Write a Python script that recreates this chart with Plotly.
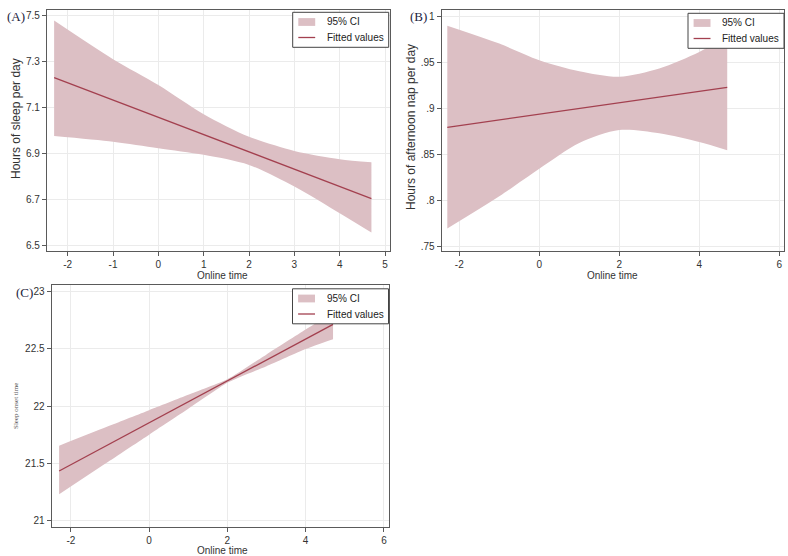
import plotly.graph_objects as go

# ---------------- data ----------------
ci_x = [-2.3, -1, 0, 1, 2, 3, 4, 4.7]
fit_x = [-2.3, 4.7]

# (A) Hours of sleep per day
a_upper = [7.48, 7.312, 7.20, 7.073, 6.975, 6.913, 6.877, 6.864]
a_lower = [6.978, 6.953, 6.925, 6.896, 6.852, 6.758, 6.642, 6.558]
a_fit = [7.232, 6.706]

# (B) Hours of afternoon nap per day
b_upper = [0.9895, 0.970, 0.952, 0.940, 0.934, 0.943, 0.961, 0.978]
b_lower = [0.769, 0.804, 0.834, 0.862, 0.876, 0.8725, 0.863, 0.854]
b_fit = [0.879, 0.9225]

# (C) Sleep onset time
c_upper = [21.657, 21.832, 21.966, 22.10, 22.235, 22.452, 22.669, 22.82]
c_lower = [21.233, 21.527, 21.753, 21.979, 22.205, 22.35, 22.50, 22.585]
c_fit = [21.436, 22.715]

a_yticks = [6.5, 6.7, 6.9, 7.1, 7.3, 7.5]
a_ytext = ["6.5", "6.7", "6.9", "7.1", "7.3", "7.5"]
a_xticks = [-2, -1, 0, 1, 2, 3, 4, 5]
a_xtext = ["-2", "-1", "0", "1", "2", "3", "4", "5"]
b_yticks = [0.75, 0.8, 0.85, 0.9, 0.95, 1]
b_ytext = [".75", ".8", ".85", ".9", ".95", "1"]
bc_xticks = [-2, 0, 2, 4, 6]
bc_xtext = ["-2", "0", "2", "4", "6"]
c_yticks = [21, 21.5, 22, 22.5, 23]
c_ytext = ["21", "21.5", "22", "22.5", "23"]

legend_labels = ["95% CI", "Fitted values"]

FILL = "rgb(220,191,196)"
LINE = "#a3404f"
W, H = 788, 556

fig = go.Figure()

def add_panel(n, upper, lower, fit, smooth):
    xs = "x" if n == 1 else f"x{n}"
    ys = "y" if n == 1 else f"y{n}"
    fig.add_trace(go.Scatter(
        x=ci_x, y=lower, mode="lines", line=dict(width=0, shape="spline", smoothing=smooth),
        xaxis=xs, yaxis=ys, showlegend=False, hoverinfo="skip"))
    fig.add_trace(go.Scatter(
        x=ci_x, y=upper, mode="lines", fill="tonexty", fillcolor=FILL,
        line=dict(width=0, shape="spline", smoothing=smooth), name=legend_labels[0],
        xaxis=xs, yaxis=ys, showlegend=False, hoverinfo="skip"))
    fig.add_trace(go.Scatter(
        x=fit_x, y=fit, mode="lines", line=dict(color=LINE, width=1.3),
        name=legend_labels[1], xaxis=xs, yaxis=ys, showlegend=False))

add_panel(1, a_upper, a_lower, a_fit, 0.8)
add_panel(2, b_upper, b_lower, b_fit, 0.8)
add_panel(3, c_upper, c_lower, c_fit, 0.5)

def px_x(p):
    return p / W

def px_y(p):
    return 1 - p / H

axis_common = dict(
    showgrid=True, gridcolor="#ebebeb", gridwidth=1, zeroline=False,
    showline=True, linecolor="#5a5a5a", linewidth=1.3, mirror=True,
    ticks="outside", ticklen=4, tickcolor="#5a5a5a",
    tickfont=dict(family="Arial, Liberation Sans", size=10, color="#333333"),
)

fig.update_layout(
    width=W, height=H, margin=dict(l=0, r=0, t=0, b=0),
    paper_bgcolor="white", plot_bgcolor="white", showlegend=False,
    font=dict(family="Arial, Liberation Sans", size=10, color="#333333"),
    xaxis=dict(domain=[px_x(47), px_x(390)], range=[-2.457, 5.11],
               tickvals=a_xticks, ticktext=a_xtext, anchor="y", **axis_common),
    yaxis=dict(domain=[px_y(251), px_y(9.5)], range=[6.478, 7.528],
               tickvals=a_yticks, ticktext=a_ytext, anchor="x", **axis_common),
    xaxis2=dict(domain=[px_x(441.7), px_x(784)], range=[-2.44, 6.12],
                tickvals=bc_xticks, ticktext=bc_xtext, anchor="y2", **axis_common),
    yaxis2=dict(domain=[px_y(251), px_y(9.5)], range=[0.74457, 1.00707],
                tickvals=b_yticks, ticktext=b_ytext, anchor="x2", **axis_common),
    xaxis3=dict(domain=[px_x(51.7), px_x(389)], range=[-2.49, 6.13],
                tickvals=bc_xticks, ticktext=bc_xtext, anchor="y3", **axis_common),
    yaxis3=dict(domain=[px_y(526.7), px_y(285)], range=[20.95, 23.058],
                tickvals=c_yticks, ticktext=c_ytext, anchor="x3", **axis_common),
)

shapes = []
ann = []
leg_font = dict(family="Arial, Liberation Sans", size=10, color="#222222")

def legend_box(L, T, Wd=96, Ht=35):
    shapes.append(dict(type="rect", xref="paper", yref="paper",
                       x0=px_x(L), x1=px_x(L + Wd), y0=px_y(T + Ht), y1=px_y(T),
                       fillcolor="white", line=dict(color="#444444", width=1), layer="above"))
    shapes.append(dict(type="rect", xref="paper", yref="paper",
                       x0=px_x(L + 5.6), x1=px_x(L + 22.5), y0=px_y(T + 13.6), y1=px_y(T + 5.8),
                       fillcolor=FILL, line=dict(width=0), layer="above"))
    shapes.append(dict(type="line", xref="paper", yref="paper",
                       x0=px_x(L + 5.6), x1=px_x(L + 22.5), y0=px_y(T + 25.2), y1=px_y(T + 25.2),
                       line=dict(color=LINE, width=1.3), layer="above"))
    ann.append(dict(text=legend_labels[0], x=px_x(L + 32), y=px_y(T + 9.6),
                    xanchor="left", yanchor="middle", font=leg_font))
    ann.append(dict(text=legend_labels[1], x=px_x(L + 32), y=px_y(T + 25.2),
                    xanchor="left", yanchor="middle", font=leg_font))

legend_box(292.7, 12.3)
legend_box(688, 13.3)
legend_box(292.5, 288.8)

serif = dict(family="Liberation Serif, Times New Roman", size=13, color="#1c2340")
sans = dict(family="Arial, Liberation Sans", size=10, color="#333333")
ytitle = dict(family="Arial, Liberation Sans", size=12, color="#333333")
# panel labels
ann.append(dict(text="(A)", x=px_x(4.5), y=px_y(16), xanchor="left", yanchor="middle", font=serif))
ann.append(dict(text="(B)", x=px_x(408), y=px_y(16), xanchor="left", yanchor="middle", font=serif))
ann.append(dict(text="(C)", x=px_x(14), y=px_y(292), xanchor="left", yanchor="middle", font=serif))
# x titles
ann.append(dict(text="Online time", x=px_x(222), y=px_y(275.5), xanchor="center", yanchor="middle", font=sans))
ann.append(dict(text="Online time", x=px_x(612), y=px_y(275.5), xanchor="center", yanchor="middle", font=sans))
ann.append(dict(text="Online time", x=px_x(222), y=px_y(550), xanchor="center", yanchor="middle", font=sans))
# y titles
ann.append(dict(text="Hours of sleep per day", x=px_x(16), y=px_y(119), textangle=-90,
                xanchor="center", yanchor="middle", font=ytitle))
ann.append(dict(text="Hours of afternoon nap per day", x=px_x(411), y=px_y(127), textangle=-90,
                xanchor="center", yanchor="middle", font=ytitle))
ann.append(dict(text="Sleep onset time", x=px_x(16), y=px_y(406), textangle=-90,
                xanchor="center", yanchor="middle",
                font=dict(family="Liberation Serif, Times New Roman", size=7, color="#555555")))
for a in ann:
    a.update(xref="paper", yref="paper", showarrow=False)
fig.update_layout(annotations=ann, shapes=shapes)

fig.write_html("out.html")
